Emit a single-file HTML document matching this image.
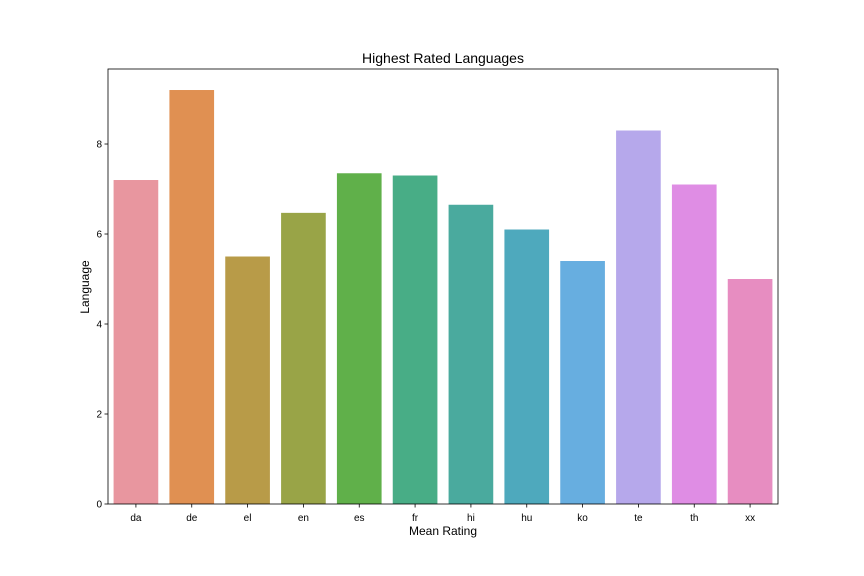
<!DOCTYPE html>
<html><head><meta charset="utf-8"><style>
html,body{margin:0;padding:0;background:#fff;}
svg{display:block;font-family:"Liberation Sans","DejaVu Sans",sans-serif;}
</style></head><body>
<svg id="chart" width="864" height="576">
<text x="443" y="63" font-size="14" text-anchor="middle">Highest Rated Languages</text>
<g id="bars"></g>
<g id="axes"></g>
<text x="443" y="535" font-size="12" text-anchor="middle">Mean Rating</text>
<text x="0" y="0" font-size="12" text-anchor="middle" transform="translate(89,287) rotate(-90)">Language</text>
</svg>
<script>
const categories=["da","de","el","en","es","fr","hi","hu","ko","te","th","xx"];
const values=[7.2,9.2,5.5,6.47,7.35,7.3,6.65,6.1,5.4,8.3,7.1,5.0];
const colors=["#e8969f","#e09052","#b89b48","#99a447","#60b04a","#48ad86","#4aaa9e","#4ea9bd","#67aee0","#b6a8eb","#df8de4","#e78dc1"];
const yTicks=[0,2,4,6,8];
const L=108,R=778,T=69,B=504,yMax=9.667;
const NS="http://www.w3.org/2000/svg";
const svg=document.getElementById('chart');
const bars=document.getElementById('bars'),axes=document.getElementById('axes');
const bw=(R-L)/categories.length;
const x=i=>L+bw*i;
const y=v=>B-(B-T)*v/yMax;
function mk(t,a,p){const e=document.createElementNS(NS,t);for(const k in a)e.setAttribute(k,a[k]);p.appendChild(e);return e;}
categories.forEach((c,i)=>{
  const r=mk('rect',{x:x(i)+bw*0.1,y:y(values[i]),width:bw*0.8,height:B-y(values[i]),fill:colors[i]},bars);
  
  
  const tk=mk('line',{x1:x(i)+bw/2,x2:x(i)+bw/2,y1:B,y2:B+3.5,stroke:'#000','stroke-width':0.8},axes);
  
  
  const t=mk('text',{x:x(i)+bw/2,y:B+17,'font-size':10,'text-anchor':'middle'},axes);
  t.textContent=c;
  
  
});
yTicks.forEach(v=>{
  const tk=mk('line',{x1:L-3.5,x2:L,y1:y(v),y2:y(v),stroke:'#000','stroke-width':0.8},axes);
  
  
  const t=mk('text',{x:L-6,y:y(v)+3.5,'font-size':10,'text-anchor':'end'},axes);
  t.textContent=v;
  
  
});
const f=mk('rect',{x:L,y:T,width:R-L,height:B-T,fill:'none',stroke:'#000','stroke-width':0.8},axes);


</script>
</body></html>
